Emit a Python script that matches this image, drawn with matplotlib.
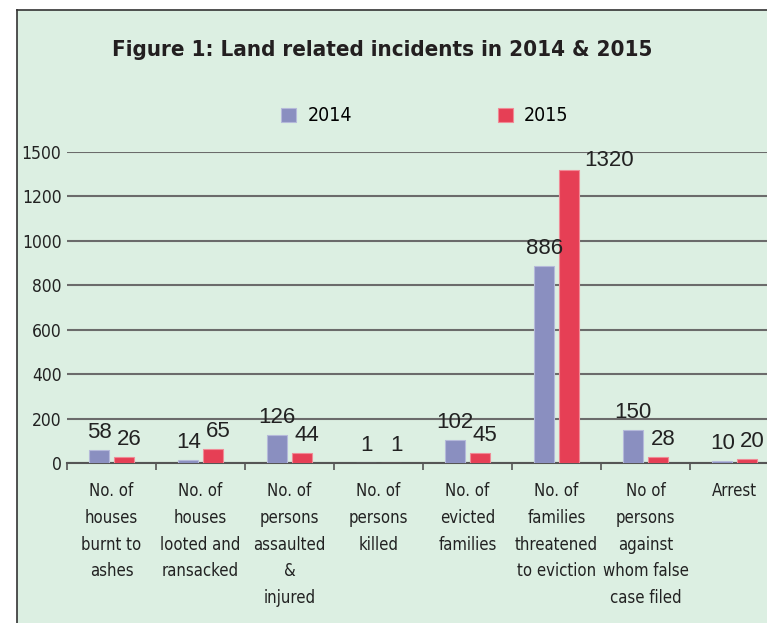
import matplotlib
matplotlib.use("Agg")
import matplotlib.pyplot as plt
from matplotlib.patches import Rectangle
from matplotlib.lines import Line2D

categories = ["No. of\nhouses\nburnt to\nashes",
              "No. of\nhouses\nlooted and\nransacked",
              "No. of\npersons\nassaulted\n&\ninjured",
              "No. of\npersons\nkilled",
              "No. of\nevicted\nfamilies",
              "No. of\nfamilies\nthreatened\nto eviction",
              "No of\npersons\nagainst\nwhom false\ncase filed",
              "Arrest"]
vals_2014 = [58, 14, 126, 1, 102, 886, 150, 10]
vals_2015 = [26, 65, 44, 1, 45, 1320, 28, 20]
ytick_vals = [0, 200, 400, 600, 800, 1000, 1200, 1400]
ytick_labels = ["0", "200", "400", "600", "800", "1000", "1200", "1500"]

NARROW = ["DejaVu Sans"]
REG = ["Liberation Sans", "DejaVu Sans"]
BG = "#dcefe2"
C14 = "#8a8fc0"
C15 = "#e63f55"

W, H = 767, 623
fig = plt.figure(figsize=(W / 100, H / 100), dpi=100)
fig.patch.set_facecolor("white")

# green panel with dark border on left and top
x0, y0 = 17 / W, 1 - 10 / H
fig.patches.append(Rectangle((x0, 0), 1 - x0, y0, transform=fig.transFigure,
                             facecolor=BG, edgecolor="none", zorder=-10))
fig.lines.append(Line2D([x0, x0], [0, y0], transform=fig.transFigure, color="#333333", lw=1.2, zorder=-9))
fig.lines.append(Line2D([x0, 1], [y0, y0], transform=fig.transFigure, color="#333333", lw=1.2, zorder=-9))

ax = fig.add_axes([67 / W, 1 - 463 / H, 712 / W, 311 / H])
ax.set_facecolor("none")

n = len(categories)
centers = [i + 0.5 for i in range(n)]
off, bw = 0.138, 0.23
b14 = ax.bar([c - off for c in centers], vals_2014, width=bw, color=C14,
             edgecolor="#b5b9da", linewidth=0.8, zorder=3, label="2014")
b15 = ax.bar([c + off for c in centers], vals_2015, width=bw, color=C15,
             edgecolor="#f08a96", linewidth=0.8, zorder=3, label="2015")

top = max(vals_2015 + vals_2014)
for rect, v in zip(b14, vals_2014):
    ax.annotate(str(v), (rect.get_x() + rect.get_width() / 2, v), xytext=(0, 5),
                textcoords="offset points", ha="center", va="bottom",
                fontsize=16, family=REG, color="#222222", zorder=4)
for rect, v in zip(b15, vals_2015):
    if v == top:
        ax.annotate(str(v), (rect.get_x() + rect.get_width(), v), xytext=(4, -1),
                    textcoords="offset points", ha="left", va="bottom",
                    fontsize=16, family=REG, color="#222222", zorder=4)
    else:
        ax.annotate(str(v), (rect.get_x() + rect.get_width() / 2, v), xytext=(4, 5),
                    textcoords="offset points", ha="center", va="bottom",
                    fontsize=16, family=REG, color="#222222", zorder=4)

ax.set_xlim(0, n)
ax.set_ylim(0, 1400)
ax.set_yticks(ytick_vals)
ax.set_yticklabels(ytick_labels, family=NARROW, fontstretch="condensed",
                   fontsize=12.5, color="#222222")
ax.tick_params(axis="y", length=0, pad=4)
ax.yaxis.grid(True, color="#6b6b6b", lw=1.5, zorder=1)
ax.set_axisbelow(True)

ax.set_xticks(centers)
ax.set_xticklabels(categories, family=NARROW, fontstretch="condensed",
                   fontsize=12, color="#222222", linespacing=1.62, va="top")
ax.set_xticks(range(n + 1), minor=True)
ax.tick_params(axis="x", which="major", length=0, pad=14)
ax.tick_params(axis="x", which="minor", length=5, width=1.2, color="#555555")

for s in ["left", "right", "top"]:
    ax.spines[s].set_visible(False)
ax.spines["bottom"].set_color("#555555")
ax.spines["bottom"].set_linewidth(1.5)

fig.text(382 / W, 1 - 50 / H, "Figure 1: Land related incidents in 2014 & 2015",
         ha="center", va="center", fontsize=16, fontweight="bold",
         family=NARROW, fontstretch="condensed", color="#231f20")

fig.legend(handles=[b14, b15], labels=["2014", "2015"], loc="center",
           bbox_to_anchor=(425 / W, 1 - 116 / H), ncol=2, frameon=False,
           prop={"family": NARROW, "stretch": "condensed", "size": 14},
           handlelength=0.75, handleheight=0.75, handletextpad=0.6,
           columnspacing=7.5)

fig.savefig("out.png", dpi=100, facecolor="white")
